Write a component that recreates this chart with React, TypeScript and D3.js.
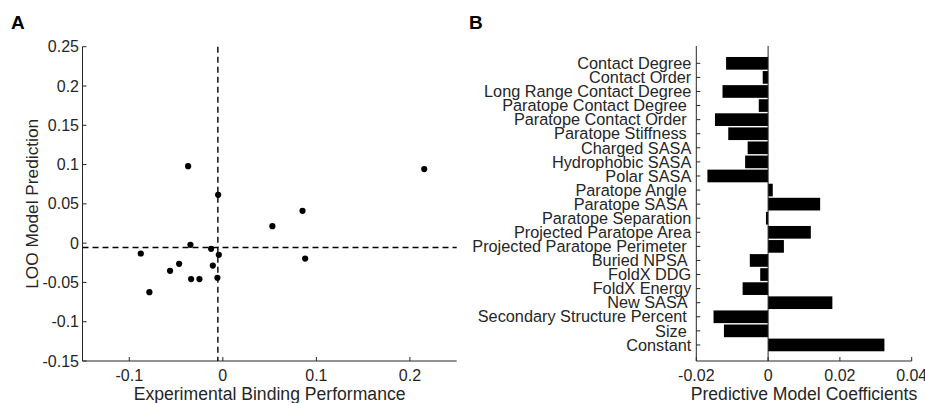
import React from "react";
import * as d3 from "d3";

// panel A: leave-one-out predictions vs experiment
const expBinding = [
  -0.0371, -0.005, 0.0852, 0.053, -0.0346, -0.0125, -0.0877, -0.0043, 0.088,
  -0.0467, -0.0107, -0.0564, -0.0339, -0.025, -0.0058, -0.0785, 0.2153,
];
const looPrediction = [
  0.098, 0.0615, 0.0411, 0.0216, -0.0022, -0.0073, -0.0132, -0.0149, -0.0196,
  -0.0263, -0.0285, -0.0352, -0.0458, -0.0458, -0.0442, -0.0624, 0.0942,
];
const refX = -0.0053;
const refY = -0.0056;
const ticksAX = [-0.1, 0, 0.1, 0.2];
const ticksAY = [-0.15, -0.1, -0.05, 0, 0.05, 0.1, 0.15, 0.2, 0.25];

// panel B: model coefficients (trailing spaces kept as in the source labels)
const features = [
  "Contact Degree",
  "Contact Order",
  "Long Range Contact Degree",
  "Paratope Contact Degree ",
  "Paratope Contact Order ",
  "Paratope Stiffness ",
  "Charged SASA",
  "Hydrophobic SASA",
  "Polar SASA",
  "Paratope Angle ",
  "Paratope SASA ",
  "Paratope Separation",
  "Projected Paratope Area",
  "Projected Paratope Perimeter ",
  "Buried NPSA ",
  "FoldX DDG",
  "FoldX Energy",
  "New SASA ",
  "Secondary Structure Percent ",
  "Size ",
  "Constant",
];
const coefficients = [
  -0.0117, -0.0015, -0.0127, -0.0026, -0.0148, -0.0111, -0.0057, -0.0064,
  -0.0169, 0.0013, 0.0145, -0.0006, 0.0119, 0.0044, -0.0051, -0.0022, -0.0071,
  0.0179, -0.0152, -0.0123, 0.0324,
];
const ticksBX = [-0.02, 0, 0.02, 0.04];

const FONT = "'Liberation Sans', Arial, Helvetica, sans-serif";
const INK = "#262626";

function fmt(v: number) {
  if (Math.abs(v) < 1e-9) return "0";
  return String(+v.toFixed(3));
}

export default function App() {
  // panel A scales
  const xA = d3.scaleLinear().domain([-0.15, 0.25]).range([82.5, 456.7]);
  const yA = d3.scaleLinear().domain([-0.15, 0.25]).range([361, 46.7]);

  // panel B scales
  const xB = d3.scaleLinear().domain([-0.02, 0.04]).range([696.3, 911.7]);
  const yB = d3.scaleLinear().domain([-0.23, 22.14]).range([46, 361]);
  const step = yB(1) - yB(0);
  const barH = step * 0.9;

  const [ya0, ya1] = yA.range();
  const [xa0, xa1] = xA.range();
  const [xb0, xb1] = xB.range();
  const [yb0, yb1] = yB.range();

  return (
    <svg
      width={925}
      height={403}
      style={{ position: "absolute", left: 0, top: 0, background: "#fff" }}
      fontFamily={FONT}
      fill={INK}
    >
      {/* panel letters */}
      <text x={11} y={29} fontSize={19} fontWeight="bold" fill="#000">A</text>
      <text x={469} y={29} fontSize={19} fontWeight="bold" fill="#000">B</text>

      {/* ---------- panel A ---------- */}
      <g>
        <line x1={xa0} x2={xa0} y1={ya1} y2={ya0} stroke={INK} />
        <line x1={xa0} x2={xa1} y1={ya0} y2={ya0} stroke={INK} />
        {ticksAY.map((t) => (
          <g key={"ay" + t}>
            <line x1={xa0} x2={xa0 + 4} y1={yA(t)} y2={yA(t)} stroke={INK} />
            <text x={xa0 - 3.5} y={yA(t)} dy="0.35em" textAnchor="end" fontSize={16}>
              {fmt(t)}
            </text>
          </g>
        ))}
        {ticksAX.map((t) => (
          <g key={"ax" + t}>
            <line x1={xA(t)} x2={xA(t)} y1={ya0} y2={ya0 - 4} stroke={INK} />
            <text x={xA(t)} y={381} textAnchor="middle" fontSize={16}>
              {fmt(t)}
            </text>
          </g>
        ))}
        <line
          x1={xA(refX)} x2={xA(refX)} y1={ya1} y2={ya0}
          stroke="#000" strokeWidth={1.4} strokeDasharray="6,4"
        />
        <line
          x1={xa0} x2={xa1} y1={yA(refY)} y2={yA(refY)}
          stroke="#000" strokeWidth={1.4} strokeDasharray="6,4"
        />
        {expBinding.map((v, i) => (
          <circle key={i} cx={xA(v)} cy={yA(looPrediction[i])} r={3.1} fill="#000" />
        ))}
        <text x={(xa0 + xa1) / 2} y={399.5} textAnchor="middle" fontSize={17.6}>
          Experimental Binding Performance
        </text>
        <text
          transform={`translate(37.5,${(ya0 + ya1) / 2}) rotate(-90)`}
          textAnchor="middle"
          fontSize={17.3}
        >
          LOO Model Prediction
        </text>
      </g>

      {/* ---------- panel B ---------- */}
      <g>
        {coefficients.map((v, i) => (
          <rect
            key={i}
            x={xB(Math.min(0, v))}
            y={yB(i + 1) - barH / 2}
            width={Math.abs(xB(v) - xB(0))}
            height={barH}
            fill="#000"
          />
        ))}
        <line x1={xB(0)} x2={xB(0)} y1={yb0} y2={yb1} stroke={INK} />
        <line x1={xb0} x2={xb0} y1={yb0} y2={yb1} stroke={INK} />
        <line x1={xb0} x2={xb1} y1={yb1} y2={yb1} stroke={INK} />
        {features.map((f, i) => (
          <g key={f}>
            <line x1={xb0} x2={xb0 + 4} y1={yB(i + 1)} y2={yB(i + 1)} stroke={INK} />
            <text
              x={xb0 - 5}
              y={yB(i + 1)}
              dy="0.35em"
              textAnchor="end"
              fontSize={16.3}
              style={{ whiteSpace: "pre" }}
            >
              {f}
            </text>
          </g>
        ))}
        {ticksBX.map((t) => (
          <g key={"bx" + t}>
            <line x1={xB(t)} x2={xB(t)} y1={yb1} y2={yb1 - 4} stroke={INK} />
            <text x={xB(t)} y={381} textAnchor="middle" fontSize={16}>
              {fmt(t)}
            </text>
          </g>
        ))}
        <text x={(xb0 + xb1) / 2} y={399.5} textAnchor="middle" fontSize={17.6}>
          Predictive Model Coefficients
        </text>
      </g>
    </svg>
  );
}
